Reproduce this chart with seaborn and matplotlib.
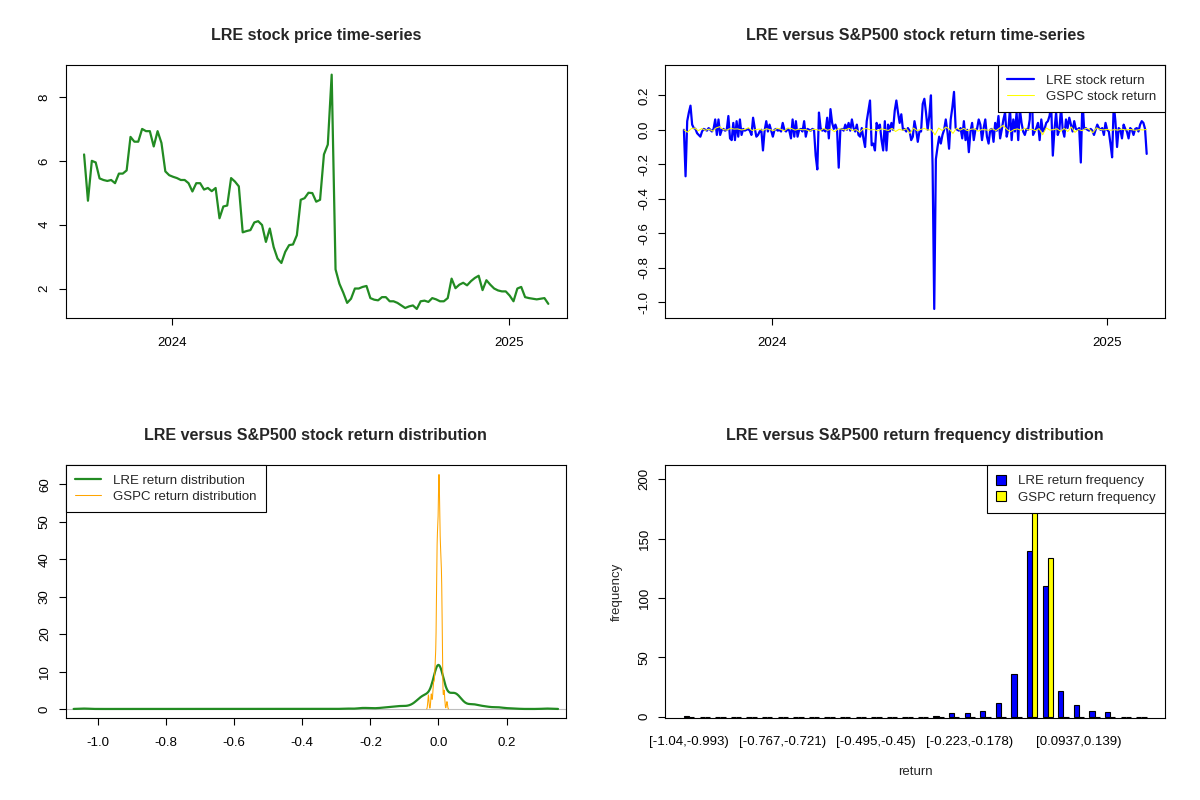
import matplotlib
matplotlib.use("Agg")
import matplotlib.pyplot as plt
import matplotlib.dates as mdates
from matplotlib.patches import Patch
import numpy as np
import pandas as pd
import seaborn as sns

sns.set_style("ticks")
plt.rcParams['font.family'] = ['Liberation Sans', 'DejaVu Sans']
plt.rcParams['axes.unicode_minus'] = False

# ---- data ----
start_date = '2023-09-27'
end_date = '2025-02-13'

# LRE close price, roughly every third trading day
lre_price = [
    6.20, 4.75, 6.00, 5.95, 5.45, 5.40, 5.37, 5.40, 5.30, 5.60,
    5.60, 5.70, 6.75, 6.60, 6.60, 7.00, 6.93, 6.93, 6.45, 6.93,
    6.56, 5.67, 5.55, 5.50, 5.46, 5.40, 5.40, 5.30, 5.04, 5.30,
    5.30, 5.10, 5.15, 5.05, 5.15, 4.20, 4.57, 4.60, 5.46, 5.35,
    5.20, 3.76, 3.80, 3.83, 4.07, 4.11, 3.99, 3.46, 3.88, 3.30,
    2.94, 2.80, 3.15, 3.36, 3.38, 3.67, 4.78, 4.83, 5.00, 4.99,
    4.72, 4.78, 6.20, 6.51, 8.70, 2.60, 2.15, 1.87, 1.55, 1.68,
    2.00, 2.00, 2.05, 2.08, 1.70, 1.65, 1.63, 1.73, 1.73, 1.60,
    1.60, 1.55, 1.47, 1.39, 1.44, 1.47, 1.36, 1.60, 1.62, 1.58,
    1.70, 1.66, 1.60, 1.60, 1.70, 2.31, 2.01, 2.12, 2.18, 2.10,
    2.23, 2.33, 2.40, 1.95, 2.26, 2.12, 2.00, 1.94, 1.91, 1.91,
    1.78, 1.60, 2.00, 2.05, 1.73, 1.70, 1.68, 1.66, 1.68, 1.70,
    1.52,
]

# LRE daily log return
lre_return = [
    0.00, -0.27, 0.05, 0.10, 0.14, 0.03, 0.01, 0.005, -0.02, -0.03,
    -0.04, -0.01, 0.005, 0.00, -0.005, 0.01, 0.00, -0.01, 0.005, 0.06,
    -0.03, 0.06, -0.03, 0.00, 0.005, -0.005, 0.00, 0.08, -0.05, -0.06,
    0.04, -0.06, 0.05, -0.04, 0.06, -0.03, 0.005, -0.005, 0.00, 0.005,
    -0.005, -0.03, 0.07, 0.01, -0.04, -0.03, -0.01, 0.00, -0.12, -0.005,
    0.05, -0.01, 0.03, -0.005, -0.04, 0.00, 0.005, -0.005, 0.00, -0.01,
    0.04, 0.00, -0.01, 0.005, -0.005, -0.05, 0.06, -0.04, 0.05, -0.04,
    0.00, 0.005, -0.01, 0.05, -0.04, 0.005, 0.00, -0.005, 0.005, 0.00,
    -0.15, -0.23, 0.10, 0.01, -0.005, 0.00, -0.01, 0.07, -0.05, 0.12,
    0.04, 0.005, 0.03, 0.00, -0.22, 0.00, 0.005, -0.005, 0.03, 0.00,
    0.04, -0.005, 0.06, 0.01, -0.01, 0.03, -0.03, -0.04, 0.01, -0.05,
    -0.10, 0.05, 0.11, 0.17, -0.09, -0.08, -0.12, 0.04, 0.01, 0.03,
    -0.06, -0.12, 0.05, -0.12,
    0.03, -0.01, 0.04, 0.00, 0.11, 0.17, 0.10, 0.04, 0.09, 0.00,
    0.005, -0.01, 0.01, -0.005, -0.06, -0.04, 0.05, 0.00, -0.07, -0.01,
    -0.01, 0.15, 0.18, 0.10, 0.00, 0.08, 0.20, -0.21, -1.04, -0.17,
    -0.10, -0.04, -0.08, -0.03, 0.00, 0.06, -0.01, -0.11, 0.06, 0.13,
    0.22, 0.01, 0.00, -0.005, 0.01, -0.05, 0.05, -0.06, 0.00, -0.13,
    -0.01, 0.04, -0.06, 0.00, 0.005, 0.06, 0.03, -0.06, 0.01, 0.06,
    -0.04, -0.08, 0.00, 0.005, -0.07, 0.04, -0.005, 0.08, -0.05, 0.00,
    0.06, 0.10, -0.04, 0.005, 0.12, -0.06, 0.06, -0.01, 0.10, -0.06,
    0.12, 0.04, -0.01, -0.03, 0.005, 0.00, 0.06, 0.32, -0.03, -0.01,
    0.01, 0.04, -0.06, 0.06, -0.01, 0.005, 0.04, 0.05, 0.08, 0.14,
    -0.15, 0.00, 0.10, -0.03, 0.00, 0.13, 0.00, -0.04, 0.06, 0.01,
    0.07, 0.03, -0.01, 0.05, 0.005, 0.00, 0.01, -0.19, 0.18, 0.005,
    0.01, 0.00, -0.005, 0.005, -0.005, -0.03, 0.00, 0.03, 0.01, 0.00,
    0.01, -0.03, 0.04, 0.00, -0.01, -0.08, -0.16, 0.15, 0.05, -0.10,
    0.01, 0.00, -0.05, 0.03, 0.005, -0.01, -0.05, 0.01, 0.00, -0.03,
    0.005, 0.01, -0.01, 0.03, 0.05, 0.04, 0.005, -0.14,
]

# S&P500 (GSPC) daily log return
gspc_return = [
    0.000, -0.014, 0.006, 0.010, -0.005, 0.007, -0.003, 0.004, -0.008, 0.011,
    0.018, 0.001, -0.002, 0.008, 0.004, 0.005, -0.001, 0.002, 0.012, -0.004,
    0.001, 0.004, -0.004, 0.006, 0.001, -0.005, 0.009, 0.002, -0.006, 0.010,
    0.007, -0.002, 0.004, 0.000, 0.001, -0.008, 0.003, 0.001, -0.005, 0.008,
    -0.003, 0.003, -0.011, 0.006, 0.004, -0.002, 0.009, -0.004, 0.001, -0.014,
    0.005, 0.007, -0.001, 0.002, -0.007, 0.006, 0.001, -0.004, 0.008, -0.010,
    0.003, -0.003, 0.006, -0.021, 0.010, -0.005, 0.002, 0.008, -0.002, 0.001,
    -0.030, 0.010, -0.004, 0.016, 0.004, -0.021, 0.010, -0.002, 0.008, -0.005,
    0.003, 0.006, -0.008, 0.001, 0.000, -0.003, 0.006, -0.005, 0.010, 0.025,
    0.003, -0.012, 0.001, 0.005, -0.004, 0.009, -0.001, 0.004, -0.006, 0.007,
    -0.029, 0.011, -0.002, 0.001, 0.006, -0.009, 0.008, -0.010, 0.016, -0.015,
    0.002, -0.005, 0.009, 0.003, -0.017, 0.011, 0.002, -0.001, 0.003, -0.003,
    0.001, -0.002, 0.004, -0.001, 0.002, 0.000, -0.003, 0.001, -0.001, 0.002,
]

# return frequency table (30 bins)
bin_labels = [
    "[-1.04,-0.993)", "[-0.993,-0.948)", "[-0.948,-0.903)", "[-0.903,-0.857)",
    "[-0.857,-0.812)", "[-0.812,-0.767)", "[-0.767,-0.721)", "[-0.721,-0.676)",
    "[-0.676,-0.631)", "[-0.631,-0.586)", "[-0.586,-0.54)", "[-0.54,-0.495)",
    "[-0.495,-0.45)", "[-0.45,-0.404)", "[-0.404,-0.359)", "[-0.359,-0.314)",
    "[-0.314,-0.268)", "[-0.268,-0.223)", "[-0.223,-0.178)", "[-0.178,-0.133)",
    "[-0.133,-0.0873)", "[-0.0873,-0.042)", "[-0.042,0.00334)", "[0.00334,0.0486)",
    "[0.0486,0.0937)", "[0.0937,0.139)", "[0.139,0.184)", "[0.184,0.23)",
    "[0.23,0.275)", "[0.275,0.32]",
]
lre_freq = [1, 0, 0, 0, 0, 0, 0, 0, 0, 0, 0, 0, 0, 0, 0,
            0, 1, 3, 3, 5, 12, 36, 140, 110, 22, 10, 5, 4, 0, 0]
gspc_freq = [0, 0, 0, 0, 0, 0, 0, 0, 0, 0, 0, 0, 0, 0, 0,
             0, 0, 0, 0, 0, 0, 0, 212, 134, 0, 0, 0, 0, 0, 0]
shown_bin_labels = ["[-1.04,-0.993)", "[-0.767,-0.721)", "[-0.495,-0.45)",
                    "[-0.223,-0.178)", "[0.0937,0.139)"]

# ---- frames ----
price_df = pd.DataFrame({'date': pd.date_range(start_date, end_date, periods=len(lre_price)),
                         'price': lre_price})
lre_df = pd.DataFrame({'date': pd.date_range(start_date, end_date, periods=len(lre_return)),
                       'ret': lre_return})
gspc_df = pd.DataFrame({'date': pd.date_range(start_date, end_date, periods=len(gspc_return)),
                        'ret': gspc_return})
hist_df = pd.DataFrame({
    'bin': bin_labels + bin_labels,
    'count': lre_freq + gspc_freq,
    'series': ['LRE return frequency'] * len(bin_labels) + ['GSPC return frequency'] * len(bin_labels),
})

GREEN = '#228B22'
BLUE = '#0000FF'
YELLOW = '#FFFF00'
ORANGE = '#FFA500'
FS = 9.5
TITLE_FS = 11.5

fig = plt.figure(figsize=(12, 8), dpi=100)
ax_price = fig.add_axes([0.0546, 0.6021, 0.4178, 0.3163])
ax_ret = fig.add_axes([0.5545, 0.6021, 0.4165, 0.3163])
ax_kde = fig.add_axes([0.0548, 0.1021, 0.4168, 0.3163])
ax_hist = fig.add_axes([0.5545, 0.1021, 0.4165, 0.3163])


def r_style(ax, xpad=8.0):
    for s in ax.spines.values():
        s.set_visible(True)
        s.set_color('black')
        s.set_linewidth(0.8)
    ax.grid(False)
    ax.tick_params(direction='out', length=5.2, width=0.8, colors='black', labelsize=FS)
    ax.tick_params(axis='x', pad=xpad)
    ax.tick_params(axis='y', pad=5.5, labelrotation=90)
    ax.set_xlabel('')
    ax.set_ylabel('')


def r_legend(ax, handles, labels, loc, **kw):
    leg = ax.legend(handles, labels, loc=loc, fontsize=FS, frameon=True, fancybox=False,
                    edgecolor='black', framealpha=1, borderaxespad=0, borderpad=0.7,
                    labelspacing=0.3, handletextpad=0.9, **kw)
    leg.get_frame().set_linewidth(0.8)
    return leg


def year_axis(ax):
    ax.xaxis.set_major_locator(mdates.YearLocator())
    ax.xaxis.set_major_formatter(mdates.DateFormatter('%Y'))


# ---- top left: price ----
sns.lineplot(data=price_df, x='date', y='price', color=GREEN, linewidth=1.6,
             estimator=None, ax=ax_price)
ax_price.margins(x=0.04, y=0.04)
year_axis(ax_price)
ax_price.set_yticks([2, 4, 6, 8])
r_style(ax_price)
ax_price.set_title('LRE stock price time-series', fontsize=TITLE_FS, fontweight='bold', pad=18.5)

# ---- top right: returns ----
sns.lineplot(data=lre_df, x='date', y='ret', color=BLUE, linewidth=1.6,
             estimator=None, ax=ax_ret)
sns.lineplot(data=gspc_df, x='date', y='ret', color=YELLOW, linewidth=0.75,
             estimator=None, ax=ax_ret)
ax_ret.margins(x=0.04, y=0.04)
year_axis(ax_ret)
ax_ret.set_yticks([-1.0, -0.8, -0.6, -0.4, -0.2, 0.0, 0.2])
ax_ret.yaxis.set_major_formatter(matplotlib.ticker.FormatStrFormatter('%.1f'))
r_style(ax_ret)
ax_ret.set_title('LRE versus S&P500 stock return time-series', fontsize=TITLE_FS,
                 fontweight='bold', pad=18.5)
r_legend(ax_ret,
         [plt.Line2D([], [], color=BLUE, lw=1.6), plt.Line2D([], [], color=YELLOW, lw=0.75)],
         ['LRE stock return', 'GSPC stock return'], 'upper right', handlelength=2.0)

# ---- bottom left: density ----
sns.kdeplot(x=lre_return, bw_adjust=0.45, cut=2.3, gridsize=600, color=GREEN,
            linewidth=1.6, ax=ax_kde)
sns.kdeplot(x=gspc_return, bw_adjust=0.5, gridsize=400, color=ORANGE, linewidth=0.75, ax=ax_kde)
ax_kde.axhline(0, color='#bebebe', linewidth=0.8, zorder=0.5)
lo, hi = min(lre_return), max(lre_return)
pad = 0.04 * (hi - lo)
ax_kde.set_xlim(lo - pad, hi + pad)
ax_kde.set_ylim(-2.5, 65.1)
ax_kde.set_xticks([-1.0, -0.8, -0.6, -0.4, -0.2, 0.0, 0.2])
ax_kde.xaxis.set_major_formatter(matplotlib.ticker.FormatStrFormatter('%.1f'))
ax_kde.set_yticks([0, 10, 20, 30, 40, 50, 60])
r_style(ax_kde)
ax_kde.set_title('LRE versus S&P500 stock return distribution', fontsize=TITLE_FS,
                 fontweight='bold', pad=18.5)
r_legend(ax_kde,
         [plt.Line2D([], [], color=GREEN, lw=1.6), plt.Line2D([], [], color=ORANGE, lw=0.75)],
         ['LRE return distribution', 'GSPC return distribution'], 'upper left', handlelength=2.0)

# ---- bottom right: frequency bars ----
sns.barplot(data=hist_df, x='bin', y='count', hue='series', order=bin_labels,
            palette=[BLUE, YELLOW], saturation=1, edgecolor='black', linewidth=0.8,
            width=2 / 3, gap=0, legend=False, ax=ax_hist)
ax_hist.set_xlim(-1.52, len(bin_labels) - 1 + 1.52)
ax_hist.set_ylim(-1.3, 211.8)
ax_hist.set_xticks([bin_labels.index(s) for s in shown_bin_labels])
ax_hist.set_xticklabels(shown_bin_labels)
ax_hist.set_yticks([0, 50, 100, 150, 200])
r_style(ax_hist, xpad=13.0)
ax_hist.tick_params(axis='x', length=0)
ax_hist.set_xlabel('return', fontsize=FS, labelpad=13)
ax_hist.set_ylabel('frequency', fontsize=FS, labelpad=11)
ax_hist.set_title('LRE versus S&P500 return frequency distribution', fontsize=TITLE_FS,
                  fontweight='bold', pad=18.5)
r_legend(ax_hist,
         [Patch(facecolor=BLUE, edgecolor='black', linewidth=0.8),
          Patch(facecolor=YELLOW, edgecolor='black', linewidth=0.8)],
         ['LRE return frequency', 'GSPC return frequency'], 'upper right',
         handlelength=0.8, handleheight=0.8)

for ax in (ax_price, ax_ret, ax_kde, ax_hist):
    for lab in ax.get_yticklabels():
        lab.set_verticalalignment('center')

fig.savefig('out.png', dpi=100)
